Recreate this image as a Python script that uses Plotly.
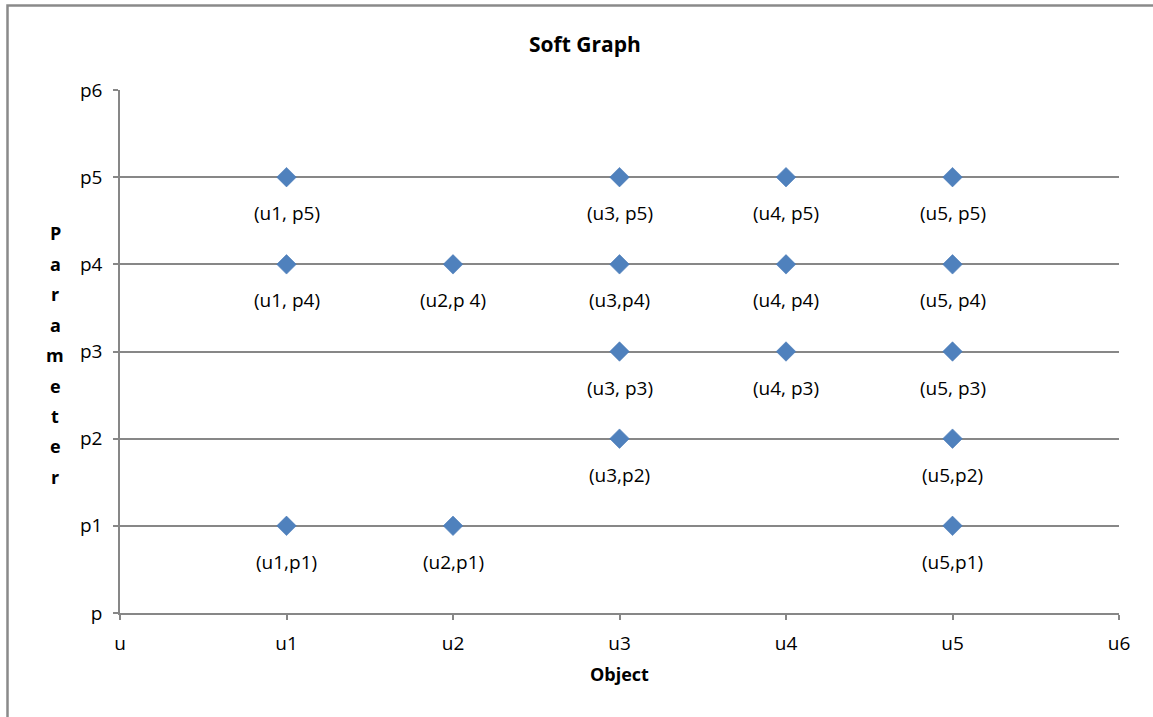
import plotly.graph_objects as go

# Object/parameter pairs of the soft set
objects = [1, 3, 4, 5, 1, 2, 3, 4, 5, 3, 4, 5, 3, 5, 1, 2, 5]
params = [5, 5, 5, 5, 4, 4, 4, 4, 4, 3, 3, 3, 2, 2, 1, 1, 1]
labels = ["(u1, p5)", "(u3, p5)", "(u4, p5)", "(u5, p5)",
          "(u1, p4)", "(u2,p 4)", "(u3,p4)", "(u4, p4)", "(u5, p4)",
          "(u3, p3)", "(u4, p3)", "(u5, p3)",
          "(u3,p2)", "(u5,p2)",
          "(u1,p1)", "(u2,p1)", "(u5,p1)"]

x_ticks = [0, 1, 2, 3, 4, 5, 6]
x_tick_text = ["u", "u1", "u2", "u3", "u4", "u5", "u6"]
y_ticks = [0, 1, 2, 3, 4, 5, 6]
y_tick_text = ["p", "p1", "p2", "p3", "p4", "p5", "p6"]

FONT = "'Open Sans', Lato, sans-serif"
GRID = "#878787"
TXT = 19

fig = go.Figure()
fig.add_trace(go.Scatter(
    x=objects, y=params, mode="markers",
    marker=dict(symbol="diamond", size=15, color="#4F81BD",
                line=dict(color="#4677B5", width=0.6)),
    hoverinfo="skip", showlegend=False, cliponaxis=False,
))

annotations = [
    dict(x=xv, y=yv, xref="x", yref="y", text=t, showarrow=False,
         yshift=-36, font=dict(family=FONT, size=TXT, color="#000"))
    for xv, yv, t in zip(objects, params, labels)
]

# Vertical, letter-by-letter axis title
title_letters = list("Parameter")
y_top, step = 233, 30.5
for i, ch in enumerate(title_letters):
    py = y_top + i * step
    annotations.append(dict(
        x=(55 - 120) / 999, y=(613 - py) / 523, xref="paper", yref="paper",
        text=f"<b>{ch}</b>", showarrow=False, xanchor="center", yanchor="middle",
        font=dict(family=FONT, size=18, color="#000")))

annotations.append(dict(
    x=(585 - 120) / 999, y=(613 - 44) / 523, xref="paper", yref="paper",
    text="<b>Soft Graph</b>", showarrow=False, xanchor="center", yanchor="middle",
    font=dict(family=FONT, size=21, color="#000")))
annotations.append(dict(
    x=(619 - 120) / 999, y=(613 - 674) / 523, xref="paper", yref="paper",
    text="<b>Object</b>", showarrow=False, xanchor="center", yanchor="middle",
    font=dict(family=FONT, size=18, color="#000")))

fig.update_layout(
    width=1153, height=717,
    margin=dict(l=120, r=34, t=90, b=104),
    paper_bgcolor="white", plot_bgcolor="white",
    font=dict(family=FONT, size=TXT, color="#000"),
    annotations=annotations,
    shapes=[dict(type="rect", xref="paper", yref="paper",
                 x0=(7.5 - 120) / 999, x1=1.2, y0=-0.4, y1=(613 - 5.5) / 523,
                 line=dict(color="#8A8A8A", width=2.5), layer="below")],
    xaxis=dict(range=[0, 6], tickvals=x_ticks, ticktext=x_tick_text,
               showgrid=False, zeroline=False, showline=True, linecolor=GRID,
               linewidth=1.5, ticks="outside", ticklen=5, tickcolor=GRID,
               tickwidth=1.5, ticklabelstandoff=7,
               tickfont=dict(family=FONT, size=TXT)),
    yaxis=dict(range=[0, 6], tickvals=y_ticks, ticktext=y_tick_text,
               showgrid=True, gridcolor=GRID, gridwidth=1.5, zeroline=False,
               showline=True, linecolor=GRID, linewidth=1.5,
               ticks="outside", ticklen=5, tickcolor=GRID, tickwidth=1.5,
               ticklabelstandoff=7,
               tickfont=dict(family=FONT, size=TXT)),
)

fig.write_html("out.html")
